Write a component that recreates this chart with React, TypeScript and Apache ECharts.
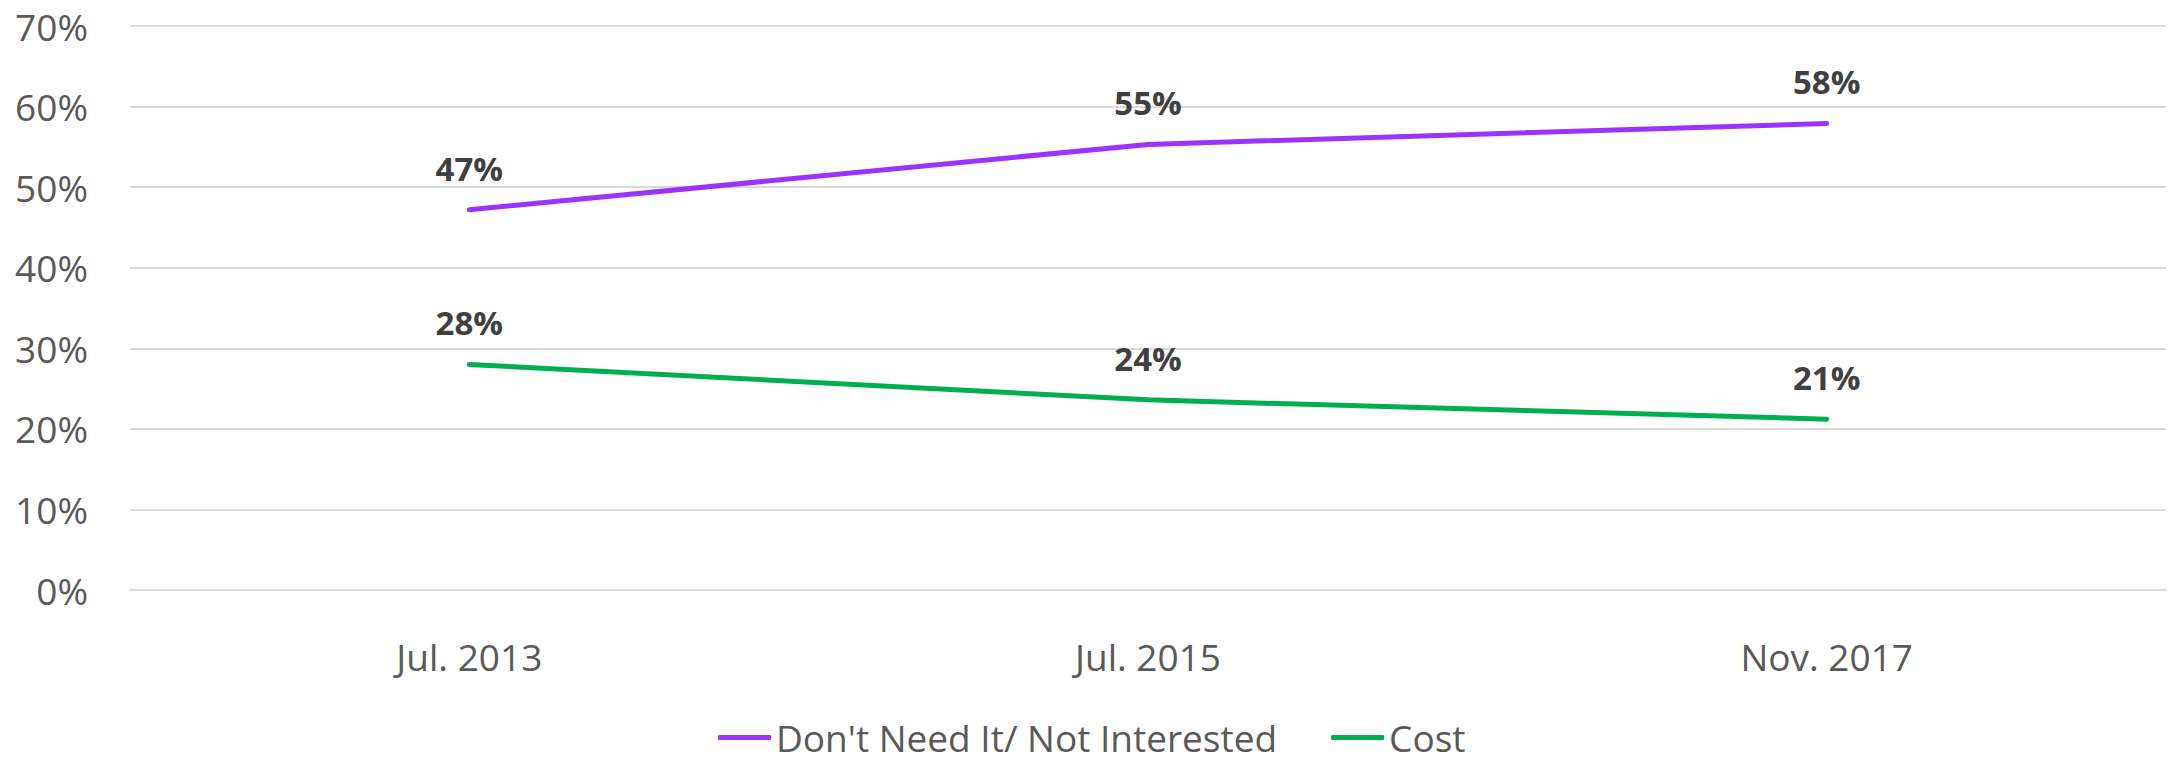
import React, { useEffect, useRef } from "react";
import * as echarts from "echarts";

const categories = ["Jul. 2013", "Jul. 2015", "Nov. 2017"];
const notInterested = [47.2, 55.3, 57.9];
const cost = [28.0, 23.6, 21.2];
const seriesNames = ["Don't Need It/ Not Interested", "Cost"];

export default function App() {
  const ref = useRef<HTMLDivElement>(null);
  useEffect(() => {
    document.body.style.margin = "0";
    const chart = echarts.init(ref.current!, null, { renderer: "svg" });
    const font = "'Open Sans', 'Noto Sans', sans-serif";
    const labelCfg = {
      show: true,
      position: "top" as const,
      distance: 25,
      fontFamily: font,
      fontSize: 33,
      fontWeight: "bold" as const,
      color: "#404040",
      formatter: (p: any) => Math.round(p.value) + "%",
    };
    chart.setOption({
      animation: false,
      backgroundColor: "#ffffff",
      grid: { left: 130, right: 7, top: 26, bottom: 173, containLabel: false },
      legend: {
        data: seriesNames,
        left: 713,
        top: 714,
        icon: "roundRect",
        itemWidth: 53,
        itemHeight: 5,
        itemGap: 54,
        textStyle: { fontFamily: font, fontSize: 37, color: "#595959" },
      },
      xAxis: {
        type: "category",
        data: categories,
        boundaryGap: true,
        axisLine: { show: true, lineStyle: { color: "#D9D9D9", width: 2 } },
        axisTick: { show: false },
        axisLabel: { margin: 48, fontFamily: font, fontSize: 37, color: "#595959" },
      },
      yAxis: {
        type: "value",
        min: 0,
        max: 70,
        interval: 10,
        axisLine: { show: false },
        axisTick: { show: false },
        splitLine: { lineStyle: { color: "#D9D9D9", width: 2 } },
        axisLabel: {
          margin: 42,
          fontFamily: font,
          fontSize: 37,
          color: "#595959",
          formatter: "{value}%",
        },
      },
      series: [
        {
          name: seriesNames[0],
          type: "line",
          data: notInterested,
          symbol: "circle",
          symbolSize: 0.01,
          showSymbol: true,
          lineStyle: { color: "#9B33FF", width: 5, cap: "round" },
          itemStyle: { color: "#9B33FF" },
          label: labelCfg,
        },
        {
          name: seriesNames[1],
          type: "line",
          data: cost,
          symbol: "circle",
          symbolSize: 0.01,
          showSymbol: true,
          lineStyle: { color: "#00B050", width: 5, cap: "round" },
          itemStyle: { color: "#00B050" },
          label: labelCfg,
        },
      ],
    });
    return () => chart.dispose();
  }, []);
  return <div ref={ref} style={{ width: 2173, height: 763 }} />;
}
